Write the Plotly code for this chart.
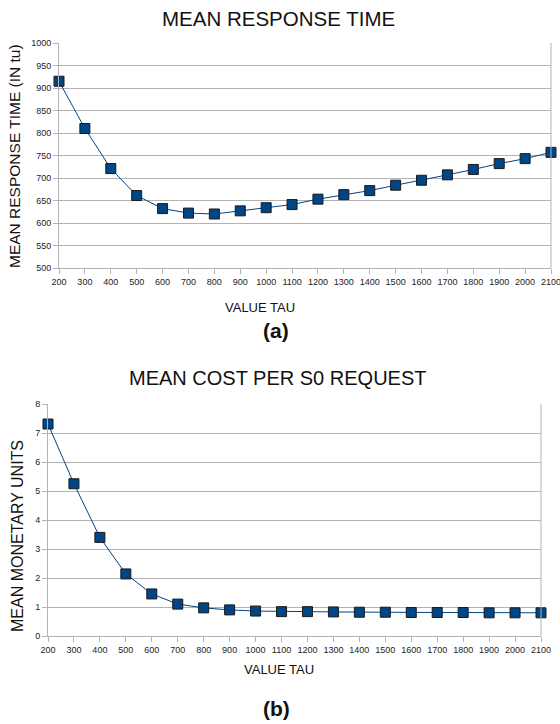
import plotly.graph_objects as go

tau = [200, 300, 400, 500, 600, 700, 800, 900, 1000, 1100, 1200, 1300, 1400,
       1500, 1600, 1700, 1800, 1900, 2000, 2100]
response_time = [915, 810, 721, 661, 632, 622, 620, 627, 634, 641, 653, 663,
                 672, 684, 695, 707, 719, 732, 743, 757]
cost = [7.31, 5.25, 3.40, 2.14, 1.45, 1.10, 0.97, 0.90, 0.86, 0.84, 0.84, 0.83,
        0.82, 0.82, 0.81, 0.81, 0.81, 0.80, 0.80, 0.80]

W, H = 560, 724
BLUE = "#004586"
GRID = "#b3b3b3"
FONT = "Liberation Sans, Arial, sans-serif"

def px_x(p):
    return p / W

def px_y(p):
    return 1 - p / H

fig = go.Figure()
marker = dict(symbol="square", size=10, color=BLUE, line=dict(color="#1a1a1a", width=1))
fig.add_trace(go.Scatter(x=tau, y=response_time, mode="lines+markers",
                         line=dict(color=BLUE, width=1), marker=marker,
                         xaxis="x", yaxis="y", showlegend=False, cliponaxis=False))
fig.add_trace(go.Scatter(x=tau, y=cost, mode="lines+markers",
                         line=dict(color=BLUE, width=1), marker=marker,
                         xaxis="x2", yaxis="y2", showlegend=False, cliponaxis=False))

xcommon = dict(tickmode="array", tickvals=tau, ticktext=[str(t) for t in tau],
               showgrid=False, ticks="outside", ticklen=5, tickcolor=GRID,
               showline=True, linecolor=GRID, linewidth=1, mirror=False,
               tickfont=dict(size=9, color="#222", family=FONT),
               ticklabeloverflow="allow",
               zeroline=False, automargin=False)
ycommon = dict(showgrid=True, gridcolor=GRID, gridwidth=1,
               ticks="outside", ticklen=5, tickcolor=GRID,
               showline=True, linecolor=GRID, linewidth=1,
               tickfont=dict(size=9, color="#222", family=FONT),
               zeroline=False, automargin=False)

def label(text, x, y, size, angle=0, bold=False):
    t = f"<b>{text}</b>" if bold else text
    return dict(text=t, x=px_x(x), y=px_y(y), xref="paper", yref="paper",
                showarrow=False, textangle=angle,
                font=dict(size=size, color="#111", family=FONT),
                xanchor="center", yanchor="middle")

fig.update_layout(
    width=W, height=H, margin=dict(l=0, r=0, t=0, b=0),
    paper_bgcolor="white", plot_bgcolor="white",
    font=dict(family=FONT),
    xaxis=dict(xcommon, domain=[px_x(59), px_x(551)], range=[200, 2100], anchor="y"),
    yaxis=dict(ycommon, domain=[px_y(268), px_y(43)], range=[500, 1000],
               dtick=50, anchor="x"),
    xaxis2=dict(xcommon, domain=[px_x(48), px_x(541)], range=[200, 2100], anchor="y2"),
    yaxis2=dict(ycommon, domain=[px_y(636), px_y(404)], range=[0, 8],
                dtick=1, anchor="x2"),
    shapes=[
        dict(type="line", xref="x domain", yref="y domain", x0=1, x1=1, y0=0, y1=1,
             line=dict(color=GRID, width=1)),
        dict(type="line", xref="x2 domain", yref="y2 domain", x0=1, x1=1, y0=0, y1=1,
             line=dict(color=GRID, width=1)),
    ],
    annotations=[
        label("MEAN RESPONSE TIME", 278, 19, 20.5),
        label("VALUE TAU", 260, 307, 13),
        label("(a)", 276, 330, 21, bold=True),
        label("MEAN RESPONSE TIME (IN tu)", 14, 156, 15.5, angle=-90),
        label("MEAN COST PER S0 REQUEST", 277, 378, 20),
        label("VALUE TAU", 279, 669, 13),
        label("(b)", 276, 708, 21, bold=True),
        label("MEAN MONETARY UNITS", 17, 536, 16, angle=-90),
    ],
)

fig.write_html("out.html", config={"displayModeBar": False},
               post_script="document.body.style.margin='0';document.body.style.overflow='hidden';")
